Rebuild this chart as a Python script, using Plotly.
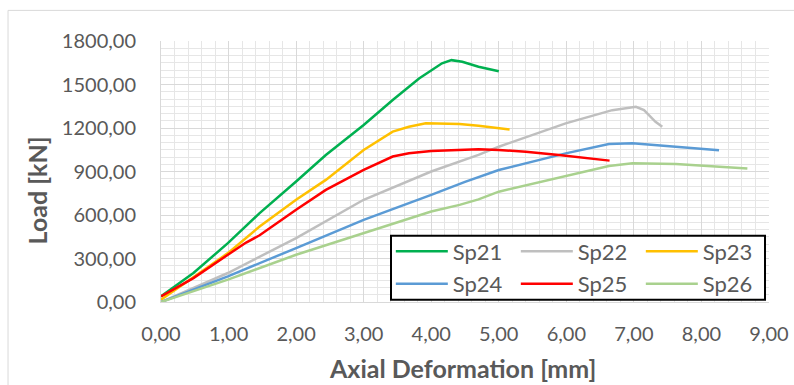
import plotly.graph_objects as go

# ---- data ----
sp21_x = [0.00, 0.48, 0.99, 1.46, 2.00, 2.44, 3.00, 3.43, 3.82, 4.00, 4.16, 4.30, 4.46, 4.70, 5.00]
sp21_y = [39, 200, 406, 613, 831, 1014, 1221, 1393, 1542, 1600, 1646, 1668, 1657, 1622, 1592]

sp22_x = [0.00, 0.99, 2.00, 3.00, 4.00, 4.42, 4.70, 5.00, 5.99, 6.68, 7.03, 7.15, 7.32, 7.42]
sp22_y = [0, 200, 441, 705, 900, 968, 1015, 1071, 1232, 1323, 1346, 1323, 1243, 1208]

sp23_x = [0.00, 0.48, 0.99, 1.46, 2.00, 2.44, 3.00, 3.43, 3.67, 3.92, 4.16, 4.42, 4.70, 5.16]
sp23_y = [16, 170, 337, 521, 705, 842, 1049, 1175, 1209, 1232, 1232, 1228, 1215, 1190]

sp24_x = [0.00, 0.99, 2.00, 3.00, 4.00, 4.50, 5.00, 5.99, 6.63, 6.98, 7.62, 8.26]
sp24_y = [0, 177, 372, 567, 739, 828, 910, 1025, 1090, 1094, 1071, 1046]

sp25_x = [0.00, 0.48, 0.99, 1.26, 1.46, 2.00, 2.44, 3.00, 3.43, 3.67, 4.00, 4.42, 4.70, 5.00, 5.40, 5.89, 6.64]
sp25_y = [39, 165, 326, 410, 460, 636, 773, 911, 1003, 1026, 1042, 1048, 1053, 1048, 1037, 1014, 975]

sp26_x = [0.00, 0.99, 2.00, 3.00, 4.00, 4.42, 4.70, 5.00, 5.99, 6.63, 6.98, 7.62, 8.68]
sp26_y = [0, 154, 326, 475, 624, 670, 708, 761, 869, 938, 957, 952, 920]

series_names = ["Sp21", "Sp22", "Sp23", "Sp24", "Sp25", "Sp26"]
series_colors = ["#00b050", "#bfbfbf", "#ffc000", "#5b9bd5", "#ff0000", "#a9d18e"]
series_x = [sp21_x, sp22_x, sp23_x, sp24_x, sp25_x, sp26_x]
series_y = [sp21_y, sp22_y, sp23_y, sp24_y, sp25_y, sp26_y]
legend_rows = ["legend", "legend", "legend", "legend2", "legend2", "legend2"]

x_title = "Axial Deformation [mm]"
y_title = "Load [kN]"

FONT = "Lato"
TXT = "#595959"

fig = go.Figure()
for name, col, xs, ys, lg in zip(series_names, series_colors, series_x, series_y, legend_rows):
    fig.add_trace(go.Scatter(x=xs, y=ys, mode="lines", name=name, legend=lg,
                             line=dict(color=col, width=2.5)))

legend_common = dict(
    orientation="h", x=0.378, xanchor="left", yanchor="middle",
    bgcolor="rgba(0,0,0,0)", borderwidth=0,
    font=dict(family=FONT, size=22, color=TXT),
    entrywidth=58, entrywidthmode="pixels", itemwidth=52,
)

fig.update_layout(
    width=794, height=385,
    margin=dict(l=161, r=25, t=41, b=83, autoexpand=False),
    paper_bgcolor="white", plot_bgcolor="white",
    separators=",.",
    font=dict(family=FONT, color=TXT, size=20),
    showlegend=True,
    legend=dict(legend_common, y=(302.3 - 251.7) / 261.6),
    legend2=dict(legend_common, y=(302.3 - 284.3) / 261.6),
)

fig.update_xaxes(
    range=[0, 9], dtick=1, tick0=0, tickformat=".2f",
    showgrid=True, gridcolor="#d9d9d9", gridwidth=1,
    minor=dict(dtick=0.2, showgrid=True, gridcolor="#e6e6e6", gridwidth=1),
    showline=True, linecolor="#d9d9d9", linewidth=1, mirror=False,
    zeroline=False, ticks="", ticklabelstandoff=14,
    tickfont=dict(family=FONT, size=20, color=TXT),
)
fig.update_yaxes(
    range=[0, 1800], dtick=300, tick0=0, tickformat=".2f",
    showgrid=True, gridcolor="#d9d9d9", gridwidth=1,
    minor=dict(dtick=50, showgrid=True, gridcolor="#e6e6e6", gridwidth=1),
    showline=True, linecolor="#d9d9d9", linewidth=1,
    zeroline=False, ticks="", ticklabelstandoff=20,
    tickfont=dict(family=FONT, size=20, color=TXT),
)

# axis titles
fig.add_annotation(text=f"<b>{x_title}</b>", xref="paper", yref="paper",
                   x=0.4967, y=-0.2511, xanchor="center", yanchor="middle",
                   showarrow=False, font=dict(family=FONT, size=25, color=TXT))
fig.add_annotation(text=f"<b>{y_title}</b>", xref="paper", yref="paper",
                   x=-0.204, y=0.4274, xanchor="center", yanchor="middle",
                   textangle=-90, showarrow=False,
                   font=dict(family=FONT, size=25, color=TXT))

# outer chart-area border (light gray, partially outside the window)
fig.add_shape(type="rect", xref="paper", yref="paper",
              x0=-0.2516, x1=1.06, y0=-0.36, y1=1.1173,
              line=dict(color="#d9d9d9", width=1), fillcolor="rgba(0,0,0,0)", layer="below")

# legend box (white with black border)
fig.add_shape(type="rect", xref="paper", yref="paper",
              x0=(391 - 161) / 608, x1=(765 - 161) / 608,
              y0=(302.3 - 300) / 261.6, y1=(302.3 - 236) / 261.6,
              line=dict(color="black", width=2), fillcolor="white", layer="above")

fig.write_html("out.html")
